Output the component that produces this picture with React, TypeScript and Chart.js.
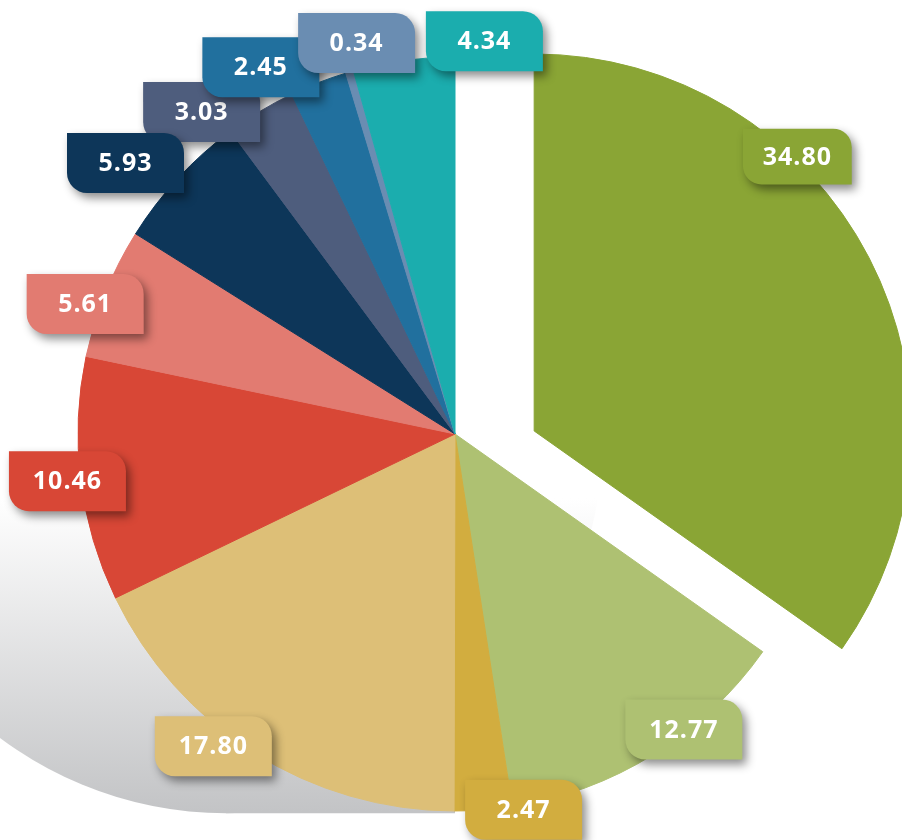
import React, { useEffect, useRef } from "react";
import { Chart, registerables } from "chart.js";

Chart.register(...registerables);

// ---- data ----
const categories = [
  "Segment 1", "Segment 2", "Segment 3", "Segment 4", "Segment 5", "Segment 6",
  "Segment 7", "Segment 8", "Segment 9", "Segment 10", "Segment 11",
];
const values = [34.8, 12.77, 2.47, 17.8, 10.46, 5.61, 5.93, 3.03, 2.45, 0.34, 4.34];
const valueLabels = ["34.80", "12.77", "2.47", "17.80", "10.46", "5.61", "5.93", "3.03", "2.45", "0.34", "4.34"];

// ---- styles ----
const colors = [
  "#8aa535", "#aec172", "#d2ad3f", "#ddbf77", "#d84736", "#e27b71",
  "#0d3659", "#4e5d7d", "#21709e", "#6a8db2", "#1badae",
];

// ---- layout (in units of the pie radius, relative to the pie centre) ----
const labelOffsets: [number, number][] = [
  [0.908, -0.736],
  [0.607, 0.784],
  [0.182, 0.997],
  [-0.641, 0.828],
  [-1.028, 0.125],
  [-0.981, -0.345],
  [-0.874, -0.719],
  [-0.672, -0.854],
  [-0.515, -0.973],
  [-0.261, -1.037],
  [0.078, -1.042],
];
const labelScale = [0.93, 1, 1, 1, 1, 1, 1, 1, 1, 1, 1];
const labelOrder = [0, 1, 2, 3, 4, 5, 7, 6, 8, 9, 10];
const BOX_W = 117;
const BOX_H = 60;
const BOX_R = 20;
const EXPLODE = { index: 0, dx: 0.21, dy: -0.008 };

const explodePlugin = {
  id: "explodeSlice",
  afterDatasetsUpdate(chart: any) {
    const meta = chart.getDatasetMeta(0);
    const arc = meta.data[EXPLODE.index];
    if (!arc) return;
    const R = arc.outerRadius;
    arc.x += EXPLODE.dx * R;
    arc.y += EXPLODE.dy * R;
  },
};

const shadowPlugin = {
  id: "pieShadow",
  beforeDatasetsDraw(chart: any) {
    const meta = chart.getDatasetMeta(0);
    const ref = meta.data[1];
    if (!ref) return;
    const cx = ref.x;
    const cy = ref.y;
    const R = ref.outerRadius;
    const shift = 0.607 * R;
    const sy = cy + 0.006 * R;
    const ctx: CanvasRenderingContext2D = chart.ctx;
    ctx.save();
    const g = ctx.createLinearGradient(0, cy + 0.17 * R, 0, cy + R);
    g.addColorStop(0, "rgba(255,255,255,1)");
    g.addColorStop(1, "#c3c4c6");
    ctx.fillStyle = g;
    ctx.beginPath();
    ctx.arc(cx - shift, sy, R, 0, Math.PI * 2);
    ctx.fill();
    ctx.beginPath();
    ctx.rect(cx - shift, sy - R, shift, 2 * R);
    ctx.fill();
    ctx.restore();
  },
};

const labelPlugin = {
  id: "valueTags",
  afterDatasetsDraw(chart: any) {
    const meta = chart.getDatasetMeta(0);
    const ref = meta.data[1];
    if (!ref) return;
    const cx = ref.x;
    const cy = ref.y;
    const R = ref.outerRadius;
    const ctx: CanvasRenderingContext2D = chart.ctx;
    const bg = chart.data.datasets[0].backgroundColor as string[];
    for (const i of labelOrder) {
      const [ox, oy] = labelOffsets[i];
      const s = labelScale[i];
      const w = BOX_W * s;
      const h = BOX_H * s;
      const mx = cx + ox * R;
      const my = cy + oy * R;
      const bx = mx - w / 2;
      const by = my - h / 2;
      ctx.save();
      ctx.shadowColor = "rgba(0,0,0,0.45)";
      ctx.shadowBlur = 10;
      ctx.shadowOffsetX = 4;
      ctx.shadowOffsetY = 5;
      ctx.fillStyle = bg[i];
      ctx.beginPath();
      (ctx as any).roundRect(bx, by, w, h, [0, BOX_R * s, 0, BOX_R * s]);
      ctx.fill();
      ctx.restore();

      ctx.save();
      ctx.fillStyle = "#ffffff";
      ctx.font = `700 25px "Open Sans"`;
      (ctx as any).letterSpacing = "1px";
      ctx.textAlign = "center";
      ctx.textBaseline = "middle";
      ctx.fillText(valueLabels[i], mx, my + 1);
      ctx.restore();
    }
  },
};

export default function App() {
  const canvasRef = useRef<HTMLCanvasElement | null>(null);

  useEffect(() => {
    if (!canvasRef.current) return;
    const chart = new Chart(canvasRef.current, {
      type: "pie",
      data: {
        labels: categories,
        datasets: [
          {
            data: values,
            backgroundColor: colors,
            borderColor: colors,
            borderWidth: 1,
          },
        ],
      },
      options: {
        responsive: false,
        animation: false,
        radius: 377,
        layout: { padding: { left: 8, right: 0, top: 28, bottom: 0 } },
        plugins: {
          legend: { display: false },
          tooltip: { enabled: false },
        },
        events: [],
      } as any,
      plugins: [explodePlugin, shadowPlugin, labelPlugin],
    });
    return () => chart.destroy();
  }, []);

  return (
    <div style={{ position: "absolute", left: 0, top: 0, width: 902, height: 840, background: "#ffffff", overflow: "hidden" }}>
      <canvas ref={canvasRef} width={902} height={840} style={{ width: 902, height: 840, display: "block" }} />
    </div>
  );
}
